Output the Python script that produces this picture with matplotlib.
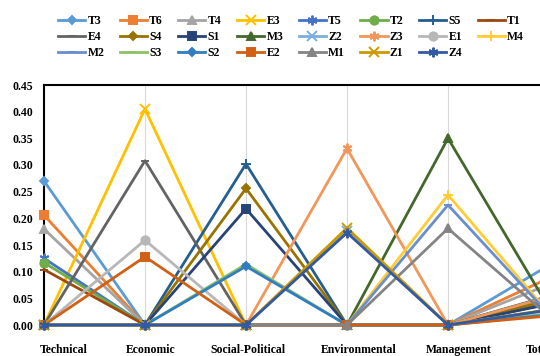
import matplotlib
matplotlib.use("Agg")
import matplotlib.pyplot as plt
import matplotlib.transforms as mtransforms

# ---------------- data ----------------
categories = ["Technical", "Economic", "Social-Political", "Environmental", "Management", "Total"]
series = ["T3", "T6", "T4", "E3", "T5", "T2", "S5", "T1",
          "E4", "S4", "S1", "M3", "Z2", "Z3", "E1", "M4",
          "M2", "S3", "S2", "E2", "M1", "Z1", "Z4"]

technical     = [0.270, 0.206, 0.180, 0, 0.125, 0.117, 0, 0.104,
                 0, 0, 0, 0, 0, 0, 0, 0,
                 0, 0, 0, 0, 0, 0, 0]
economic      = [0, 0, 0, 0.405, 0, 0, 0, 0,
                 0.308, 0, 0, 0, 0, 0, 0.159, 0,
                 0, 0, 0, 0.128, 0, 0, 0]
social        = [0, 0, 0, 0, 0, 0, 0.302, 0,
                 0, 0.256, 0.218, 0, 0, 0, 0, 0,
                 0, 0.114, 0.110, 0, 0, 0, 0]
environmental = [0, 0, 0, 0, 0, 0, 0, 0,
                 0, 0, 0, 0, 0.176, 0.331, 0, 0,
                 0, 0, 0, 0, 0, 0.182, 0.173]
management    = [0, 0, 0, 0, 0, 0, 0, 0,
                 0, 0, 0, 0.350, 0, 0, 0, 0.244,
                 0.225, 0, 0, 0, 0.181, 0, 0]
total         = [0.112, 0.088, 0.076, 0.053, 0.051, 0.048, 0.054, 0.043,
                 0.040, 0.046, 0.039, 0.032, 0.028, 0.053, 0.021, 0.022,
                 0.020, 0.021, 0.019, 0.017, 0.016, 0.029, 0.028]

colors = ["#5B9BD5", "#ED7D31", "#A5A5A5", "#FFC000", "#4472C4", "#70AD47", "#255E91", "#9E480E",
          "#636363", "#997300", "#264478", "#43682B", "#7CAFDD", "#F1975A", "#B7B7B7", "#FFCD33",
          "#698ED0", "#8CC168", "#327DC2", "#D26012", "#848484", "#CC9A00", "#335AA1"]
asterisk = (6, 2, 0)
marker_cycle = ["D", "s", "^", "x", asterisk, "o", "+", "_", "_"]
msize = {"D": 4.5, "s": 5.5, "^": 6, "x": 7, "o": 6, "+": 7, "_": 6}

plt.rcParams["font.family"] = ["Liberation Serif", "DejaVu Serif"]
plt.rcParams["font.weight"] = "bold"

fig = plt.figure(figsize=(5.40, 3.56), dpi=100)
W, H = 540, 356
x_left, x_right = 44, 549
y_top, y_zero = 85, 325
ax = fig.add_axes([x_left / W, 1 - y_zero / H, (x_right - x_left) / W, (y_zero - y_top) / H])

xs = list(range(len(categories)))
handles = []
for i, name in enumerate(series):
    vals = [technical[i], economic[i], social[i], environmental[i], management[i], total[i]]
    mk = marker_cycle[i % len(marker_cycle)]
    ms = 7 if isinstance(mk, tuple) else msize.get(mk, 6.5)
    (ln,) = ax.plot(xs, vals, color=colors[i], lw=2.0, marker=mk, markersize=ms,
                    markeredgewidth=1.4, markerfacecolor=colors[i], markeredgecolor=colors[i],
                    clip_on=False, zorder=3, label=name)
    handles.append(ln)

ax.set_xlim(0, len(categories) - 1)
ax.set_ylim(0, 0.45)
ax.set_yticks([k * 0.05 for k in range(10)])
ax.set_yticklabels([f"{k * 0.05:.2f}" for k in range(10)], fontsize=8.5, fontweight="bold")
ax.set_xticks(xs)
ax.set_xticklabels(categories, fontsize=8.5, fontweight="bold")
ax.tick_params(axis="both", length=0)
ax.tick_params(axis="x", pad=13.5)
ax.tick_params(axis="y", pad=8)

# small per-label horizontal shifts as in the reference
shifts = [20, 6, 2, 12, 11, -10]
for lab, dx in zip(ax.get_xticklabels(), shifts):
    lab.set_transform(lab.get_transform() + mtransforms.ScaledTranslation(dx / 100, 0, fig.dpi_scale_trans))

ax.grid(axis="x", color="#D9D9D9", lw=0.8, zorder=0)
ax.grid(axis="y", visible=False)
ax.set_axisbelow(True)
for side in ["left", "top", "right"]:
    ax.spines[side].set_color("black")
    ax.spines[side].set_linewidth(1.5)
ax.spines["bottom"].set_visible(False)

# legend: row-major order across 8 columns
ncol = 8
order = []
for j in range(ncol):
    for r in range(3):
        k = r * ncol + j
        if k < len(series):
            order.append(k)
fig.legend([handles[k] for k in order], [series[k] for k in order],
           loc="upper left", bbox_to_anchor=(58 / W, 1 - 15 / H), ncol=ncol, frameon=False,
           prop={"family": "Liberation Serif", "weight": "bold", "size": 8.5},
           handlelength=2.3, handletextpad=0.2, columnspacing=1.3, labelspacing=0.35,
           borderpad=0, borderaxespad=0)

fig.savefig("out.png", dpi=100)
